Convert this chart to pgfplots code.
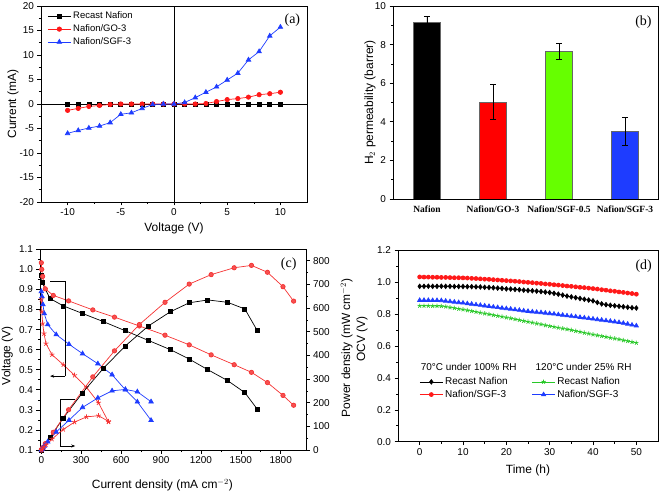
\documentclass[border=0pt]{standalone}
\usepackage{fontspec}
\setmainfont{Liberation Sans}
\newfontfamily\serifont{Liberation Serif}
\usepackage{pgfplots}
\pgfplotsset{compat=1.18}
\usetikzlibrary{arrows.meta}
\definecolor{myred}{RGB}{255,25,25}
\definecolor{cred}{RGB}{245,50,50}
\definecolor{myblue}{RGB}{30,60,255}
\definecolor{mygreen}{RGB}{40,200,40}
\definecolor{bargreen}{RGB}{102,255,0}
\definecolor{barblue}{RGB}{30,60,255}
\tikzset{plab/.style={font=\serifont\fontsize{14}{16}\selectfont}}
\pgfplotsset{
  panel/.style={scale only axis, anchor=south west,
    font=\fontsize{10}{12}\selectfont,
    tick label style={font=\fontsize{10}{12}\selectfont},
    /pgf/number format/assume math mode=true,
    /pgf/number format/1000 sep={},
    label style={font=\fontsize{12}{14}\selectfont},
    tick align=outside, tick pos=left,
    major tick length=3.5bp, minor tick length=2bp,
    every tick/.style={black, line width=0.6pt},
    axis line style={line width=0.8pt},
    legend cell align=left,
    legend image code/.code={\draw[mark repeat=2,mark phase=2,##1] plot coordinates {(0bp,0bp) (11.5bp,0bp) (23bp,0bp)};},
  },
}
\begin{document}
\begin{tikzpicture}
\path[use as bounding box] (0,0) rectangle (661bp,492bp);
% ---------------- (a) ----------------
\begin{axis}[panel, at={(41bp,290bp)}, width=266bp, height=196bp,
  xmin=-12.5, xmax=12.5, ymin=-20, ymax=20,
  xtick={-10,-5,0,5,10}, minor x tick num=1,
  ytick={-20,-15,-10,-5,0,5,10,15,20}, minor y tick num=1,
  xlabel={Voltage (V)}, ylabel={Current (mA)},
  xlabel style={at={(axis description cs:0.5,-0.133)}, anchor=center},
  ylabel style={at={(axis description cs:-0.105,0.5)}, anchor=center},
  legend style={at={(0.02,0.985)}, anchor=north west, draw=none, fill=none,
    font=\fontsize{9.5}{11}\selectfont, row sep=0.5pt, inner sep=1pt}]
\addplot[black, line width=0.8pt, forget plot] coordinates {(0,-20) (0,20)};
\addplot[black, line width=0.8pt, forget plot] coordinates {(-12.5,0) (12.5,0)};
\addplot[black, line width=0.7pt, mark=square*, mark size=2bp] coordinates {
(-10,0) (-9,0) (-8,0) (-7,0) (-6,0) (-5,0) (-4,0) (-3,0) (-2,0) (-1,0) (0,0)
(1,0) (2,0) (3,0) (4,0) (5,0) (6,0) (7,0) (8,0) (9,0) (10,0)};
\addlegendentry{Recast Nafion}
\addplot[myred, line width=0.7pt, mark=*, mark size=2.2bp] coordinates {
(-10,-1.3) (-9,-0.9) (-8,-0.5) (-7,-0.3) (-6,-0.1) (-5,0) (-4,0) (-3,0) (-2,0) (-1,0) (0,0)
(1,0) (2,0) (3,0.1) (4,0.5) (5,0.9) (6,1.1) (7,1.4) (8,1.9) (9,2.1) (10,2.4)};
\addlegendentry{Nafion/GO-3}
\addplot[myblue, line width=0.7pt, mark=triangle*, mark size=2.6bp] coordinates {
(-10,-6.0) (-9,-5.4) (-8,-4.9) (-7,-4.5) (-6,-3.8) (-5,-2.1) (-4,-1.8) (-3,-0.9) (-2,-0.1) (-1,0) (0,0)
(1,0.3) (2,1.3) (3,2.4) (4,3.5) (5,4.9) (6,6.3) (7,9.0) (8,10.7) (9,13.9) (10,15.7)};
\addlegendentry{Nafion/SGF-3}
\node[plab] at (axis description cs:0.945,0.93) {(a)};
\end{axis}
% ---------------- (b) ----------------
\begin{axis}[panel, at={(393bp,293bp)}, width=265bp, height=193bp,
  xmin=-0.515, xmax=3.5, ymin=0, ymax=10,
  ybar, bar width=26.7bp, bar shift=0pt,
  xtick={0,1,2,3}, xticklabels={Nafion, Nafion/GO-3, Nafion/SGF-0.5, Nafion/SGF-3},
  xticklabel style={font=\serifont\bfseries\fontsize{9.5}{11}\selectfont},
  x tick style={draw=none},
  ytick={0,2,4,6,8,10}, minor y tick num=1,
  ylabel={H$_2$ permeability (barrer)},
  ylabel style={at={(axis description cs:-0.087,0.5)}, anchor=center},
  error bars/error bar style={black, line width=0.7pt},
  error bars/error mark options={rotate=90, mark size=3bp, black, line width=0.7pt}]
\addplot[fill=black, draw=black!60, error bars/.cd, y dir=both, y explicit] coordinates {(0,9.14) +- (0,0.31)};
\addplot[fill=red, draw=black!60, error bars/.cd, y dir=both, y explicit] coordinates {(1,5.02) +- (0,0.90)};
\addplot[fill=bargreen, draw=black!60, error bars/.cd, y dir=both, y explicit] coordinates {(2,7.64) +- (0,0.41)};
\addplot[fill=barblue, draw=black!60, error bars/.cd, y dir=both, y explicit] coordinates {(3,3.50) +- (0,0.71)};
\node[plab] at (axis description cs:0.945,0.915) {(b)};
\end{axis}
% ---------------- (c) left ----------------
\begin{axis}[panel, at={(40bp,42bp)}, width=266bp, height=200.7bp,
  xmin=-10, xmax=1990, ymin=0.1, ymax=1.1,
  xtick={0,300,600,900,1200,1500,1800}, minor x tick num=1,
  ytick={0.1,0.2,0.3,0.4,0.5,0.6,0.7,0.8,0.9,1.0,1.1}, minor y tick num=1,
  yticklabel style={/pgf/number format/.cd, fixed, fixed zerofill, precision=1},
  xlabel={Current density (mA cm$^{-2}$)}, ylabel={Voltage (V)},
  xlabel style={at={(axis description cs:0.46,-0.174)}, anchor=center},
  ylabel style={at={(axis description cs:-0.123,0.47)}, anchor=center},
  xtick pos=bottom, ytick pos=left]
\addplot[black, line width=0.7pt, mark=square*, mark size=2bp] coordinates {
(0,0.972) (5,0.935) (65,0.855) (165,0.818) (307,0.781) (465,0.740) (632,0.694) (805,0.646)
(970,0.600) (1112,0.553) (1252,0.500) (1400,0.446) (1530,0.386) (1622,0.305)};
\addplot[cred, line width=0.7pt, mark=*, mark size=2.2bp, mark options={fill=cred!85}] coordinates {
(0,1.033) (3,1.000) (10,0.965) (30,0.903) (90,0.870) (205,0.843) (387,0.798) (550,0.762)
(737,0.718) (930,0.672) (1112,0.624) (1277,0.574) (1450,0.525) (1580,0.487) (1700,0.436)
(1817,0.372) (1897,0.323)};
\addplot[myblue, line width=0.7pt, mark=triangle*, mark size=2.6bp] coordinates {
(0,0.890) (5,0.865) (12,0.825) (22,0.780) (48,0.725) (112,0.675) (208,0.627) (310,0.580)
(425,0.530) (532,0.475) (632,0.400) (722,0.340) (825,0.248)};
\addplot[cred, line width=0.7pt, mark=star, mark size=2.6bp] coordinates {
(0,0.850) (3,0.790) (10,0.730) (20,0.680) (35,0.630) (80,0.575) (165,0.525) (250,0.472)
(340,0.412) (430,0.335) (505,0.240)};
\draw[black, line width=0.6pt] (axis cs:68,0.939) -- (axis cs:180,0.939) -- (axis cs:180,0.468);
\draw[black, line width=0.6pt, -{Stealth[length=4bp,width=3bp]}] (axis cs:180,0.468) -- (axis cs:66,0.468);
\draw[black, line width=0.6pt] (axis cs:253,0.354) -- (axis cs:140,0.354) -- (axis cs:140,0.12);
\draw[black, line width=0.6pt, -{Stealth[length=4bp,width=3bp]}] (axis cs:140,0.12) -- (axis cs:255,0.12);
\node[plab] at (axis description cs:0.935,0.925) {(c)};
\end{axis}
% ---------------- (c) right ----------------
\begin{axis}[panel, at={(40bp,42bp)}, width=266bp, height=200.7bp,
  xmin=-10, xmax=1990, ymin=0, ymax=848,
  axis x line=none, axis y line*=right, ytick pos=right,
  ytick={0,100,200,300,400,500,600,700,800}, minor y tick num=1,
  ylabel={Power density (mW cm$^{-2}$)},
  ylabel style={at={(axis description cs:1.153,0.508)}, anchor=center}]
\addplot[black, line width=0.7pt, mark=square*, mark size=2bp] coordinates {
(0,0) (5,5) (65,52) (165,135) (307,240) (465,344) (632,440) (805,524) (970,584)
(1112,622) (1252,634) (1400,624) (1530,596) (1622,506)};
\addplot[cred, line width=0.7pt, mark=*, mark size=2.2bp, mark options={fill=cred!85}] coordinates {
(0,0) (3,3) (10,10) (30,27) (90,75) (205,170) (387,309) (550,419) (737,530) (930,624)
(1112,701) (1277,741) (1450,770) (1580,780) (1700,751) (1817,690) (1897,629)};
\addplot[myblue, line width=0.7pt, mark=triangle*, mark size=2.6bp] coordinates {
(0,0) (5,4) (12,10) (22,17) (48,35) (112,76) (208,126) (310,180) (425,220) (532,250)
(632,256) (722,246) (825,204)};
\addplot[cred, line width=0.7pt, mark=star, mark size=2.6bp] coordinates {
(0,0) (3,2) (10,7) (20,14) (35,22) (80,46) (165,87) (250,118) (340,140) (430,145) (505,121)};
\end{axis}
% ---------------- (d) ----------------
\begin{axis}[panel, at={(398bp,50.3bp)}, width=260bp, height=191.4bp,
  xmin=-5, xmax=55, ymin=0, ymax=1.2,
  xtick={0,10,20,30,40,50}, minor x tick num=1,
  ytick={0,0.2,0.4,0.6,0.8,1.0,1.2}, minor y tick num=1,
  yticklabel style={/pgf/number format/.cd, fixed, fixed zerofill, precision=1},
  xlabel={Time (h)}, ylabel={OCV (V)},
  xlabel style={at={(axis description cs:0.5,-0.148)}, anchor=center},
  ylabel style={at={(axis description cs:-0.138,0.536)}, anchor=center},
  legend columns=2, transpose legend,
  legend style={at={(0.078,0.352)}, anchor=north west, draw=none, fill=none,
    font=\fontsize{10}{12}\selectfont, row sep=0pt, inner sep=1pt,
    /tikz/every even column/.append style={column sep=22bp}}]
\addplot[black, line width=0.7pt, mark=diamond*, mark size=2.3bp] coordinates {
(0,0.974) (1,0.974) (2,0.975) (3,0.974) (4,0.974) (5,0.975) (6,0.974) (7,0.974) (8,0.973) (9,0.973)
(10,0.973) (11,0.972) (12,0.972) (13,0.971) (14,0.970) (15,0.968) (16,0.967) (17,0.965) (18,0.963) (19,0.961)
(20,0.958) (21,0.957) (22,0.955) (23,0.953) (24,0.950) (25,0.948) (26,0.946) (27,0.944) (28,0.941) (29,0.938)
(30,0.935) (31,0.930) (32,0.925) (33,0.919) (34,0.913) (35,0.908) (36,0.903) (37,0.898) (38,0.893) (39,0.888)
(40,0.883) (41,0.873) (42,0.864) (43,0.859) (44,0.855) (45,0.852) (46,0.849) (47,0.846) (48,0.843) (49,0.840)
(50,0.838)};
\addlegendentry{Recast Nafion}
\addplot[myred, line width=0.7pt, mark=*, mark size=2bp] coordinates {
(0,1.033) (1,1.032) (2,1.032) (3,1.031) (4,1.031) (5,1.030) (6,1.030) (7,1.029) (8,1.028) (9,1.028)
(10,1.027) (11,1.026) (12,1.024) (13,1.023) (14,1.021) (15,1.019) (16,1.018) (17,1.016) (18,1.014) (19,1.012)
(20,1.010) (21,1.008) (22,1.006) (23,1.004) (24,1.001) (25,0.999) (26,0.997) (27,0.994) (28,0.992) (29,0.989)
(30,0.987) (31,0.984) (32,0.982) (33,0.979) (34,0.976) (35,0.974) (36,0.971) (37,0.968) (38,0.966) (39,0.963)
(40,0.960) (41,0.957) (42,0.953) (43,0.950) (44,0.946) (45,0.943) (46,0.939) (47,0.936) (48,0.932) (49,0.929)
(50,0.925)};
\addlegendentry{Nafion/SGF-3}
\addplot[mygreen, line width=0.7pt, mark=star, mark size=2.3bp] coordinates {
(0,0.852) (1,0.852) (2,0.852) (3,0.851) (4,0.851) (5,0.850) (6,0.847) (7,0.842) (8,0.838) (9,0.833)
(10,0.829) (11,0.824) (12,0.819) (13,0.814) (14,0.809) (15,0.804) (16,0.799) (17,0.794) (18,0.789) (19,0.784)
(20,0.779) (21,0.774) (22,0.768) (23,0.763) (24,0.757) (25,0.752) (26,0.747) (27,0.741) (28,0.736) (29,0.730)
(30,0.725) (31,0.720) (32,0.715) (33,0.710) (34,0.705) (35,0.700) (36,0.694) (37,0.689) (38,0.683) (39,0.678)
(40,0.672) (41,0.667) (42,0.662) (43,0.657) (44,0.652) (45,0.647) (46,0.642) (47,0.636) (48,0.631) (49,0.625)
(50,0.620)};
\addlegendentry{Recast Nafion}
\addplot[myblue, line width=0.7pt, mark=triangle*, mark size=2.4bp] coordinates {
(0,0.887) (1,0.887) (2,0.887) (3,0.886) (4,0.886) (5,0.885) (6,0.882) (7,0.879) (8,0.876) (9,0.873)
(10,0.870) (11,0.866) (12,0.863) (13,0.859) (14,0.856) (15,0.852) (16,0.849) (17,0.845) (18,0.842) (19,0.838)
(20,0.835) (21,0.832) (22,0.828) (23,0.825) (24,0.821) (25,0.818) (26,0.815) (27,0.812) (28,0.810) (29,0.807)
(30,0.804) (31,0.801) (32,0.797) (33,0.794) (34,0.790) (35,0.787) (36,0.784) (37,0.780) (38,0.777) (39,0.773)
(40,0.770) (41,0.766) (42,0.763) (43,0.759) (44,0.756) (45,0.752) (46,0.748) (47,0.743) (48,0.738) (49,0.732)
(50,0.727)};
\addlegendentry{Nafion/SGF-3}
\node[anchor=west, font=\fontsize{10}{12}\selectfont] at (axis description cs:0.074,0.391) {70°C under 100\% RH};
\node[anchor=west, font=\fontsize{10}{12}\selectfont] at (axis description cs:0.516,0.391) {120°C under 25\% RH};
\node[plab] at (axis description cs:0.945,0.915) {(d)};
\end{axis}
\end{tikzpicture}
\end{document}
